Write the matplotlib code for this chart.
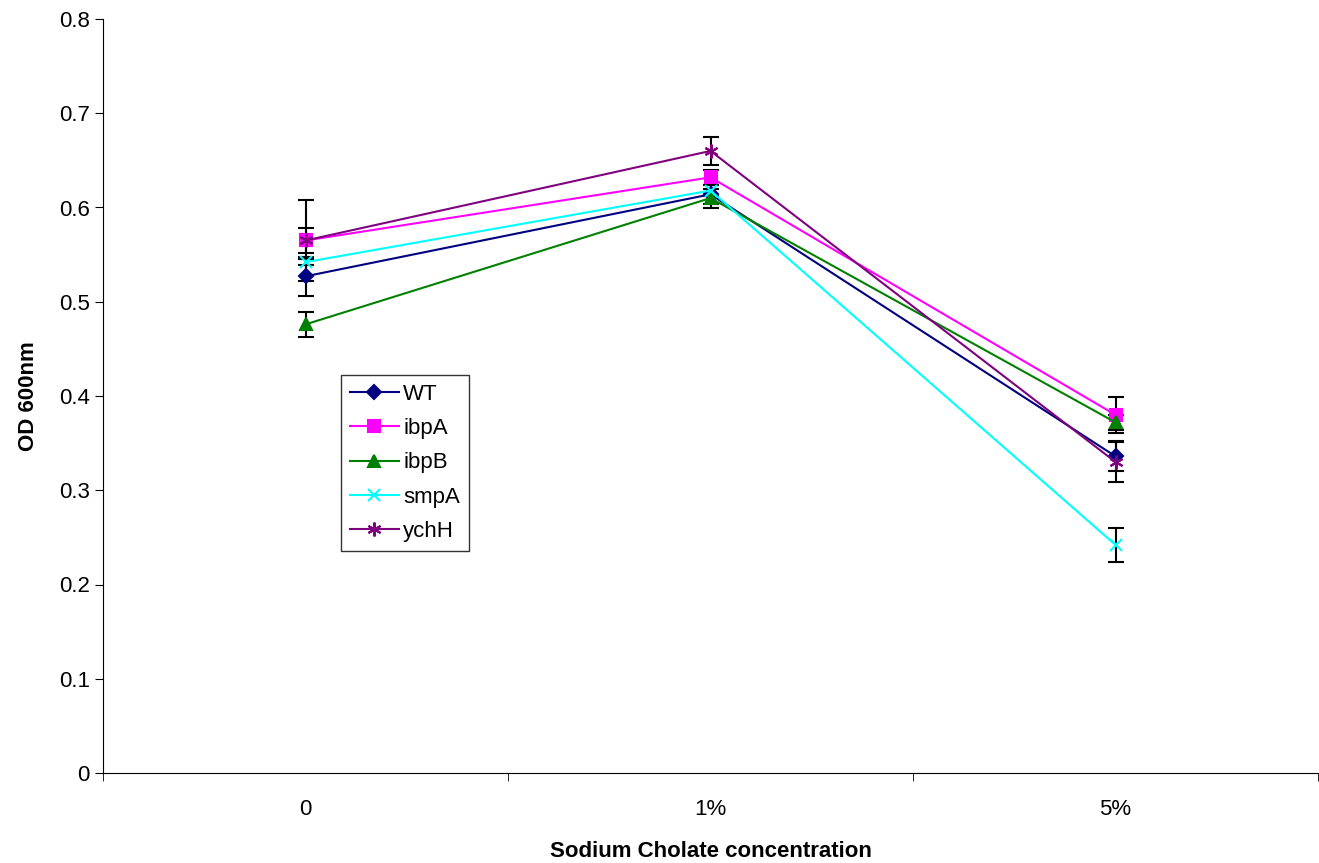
import matplotlib
matplotlib.use('Agg')
import matplotlib.pyplot as plt
import numpy as np

plt.rcParams['font.family'] = ['Liberation Sans', 'DejaVu Sans']

categories = ['0', '1%', '5%']
wt = [0.527, 0.614, 0.336]
wt_err = [0.021, 0.010, 0.016]
ibpA = [0.565, 0.632, 0.380]
ibpA_err = [0.013, 0.008, 0.019]
ibpB = [0.476, 0.610, 0.372]
ibpB_err = [0.013, 0.010, 0.008]
smpA = [0.542, 0.618, 0.242]
smpA_err = [0.003, 0.006, 0.018]
ychH = [0.565, 0.660, 0.330]
ychH_err = [0.043, 0.015, 0.021]

series = [('WT', wt, wt_err, '#000080', 'D', 7),
          ('ibpA', ibpA, ibpA_err, '#FF00FF', 's', 8),
          ('ibpB', ibpB, ibpB_err, '#008000', '^', 8),
          ('smpA', smpA, smpA_err, '#00FFFF', 'x', 8),
          ('ychH', ychH, ychH_err, '#800080', (6, 2, 0), 10)]

fig = plt.figure(figsize=(13.19, 8.63), dpi=100)
ax = fig.add_axes([103/1319, 90/863, 1215/1319, 754/863])

x = np.arange(len(categories))
for name, vals, err, col, mk, ms in series:
    ax.errorbar(x, vals, yerr=err, fmt='none', ecolor='black', elinewidth=1.5,
                capsize=6, capthick=1.5, zorder=2)
for name, vals, err, col, mk, ms in series:
    ax.plot(x, vals, color=col, marker=mk, markersize=ms, linewidth=1.5,
            markeredgewidth=1.5, label=name, zorder=3)

ax.set_xlim(-0.5, 2.5)
ax.set_ylim(0, 0.8)
ax.set_yticks(np.arange(0, 0.81, 0.1))
ax.set_yticklabels(['0'] + ['%.1f' % v for v in np.arange(0.1, 0.81, 0.1)])
ax.set_xticks(x)
ax.set_xticklabels(categories)
ax.set_xticks([-0.5, 0.5, 1.5, 2.5], minor=True)
ax.tick_params(axis='x', which='major', length=0, pad=19, labelsize=16)
ax.tick_params(axis='x', which='minor', length=6, direction='out')
ax.tick_params(axis='y', length=6, direction='out', labelsize=16)
ax.spines['top'].set_visible(False)
ax.spines['right'].set_visible(False)

ax.set_xlabel('Sodium Cholate concentration', fontsize=16, fontweight='bold', labelpad=15)
ax.set_ylabel('OD 600nm', fontsize=16, fontweight='bold', labelpad=14)

leg = ax.legend(loc='upper left', bbox_to_anchor=(0.196, 0.528), fontsize=16,
                frameon=True, fancybox=False, edgecolor='black', handlelength=2.2,
                handletextpad=0.2, labelspacing=0.6, borderpad=0.4, borderaxespad=0)
leg.get_frame().set_linewidth(1.0)

fig.savefig('out.png', dpi=100)
